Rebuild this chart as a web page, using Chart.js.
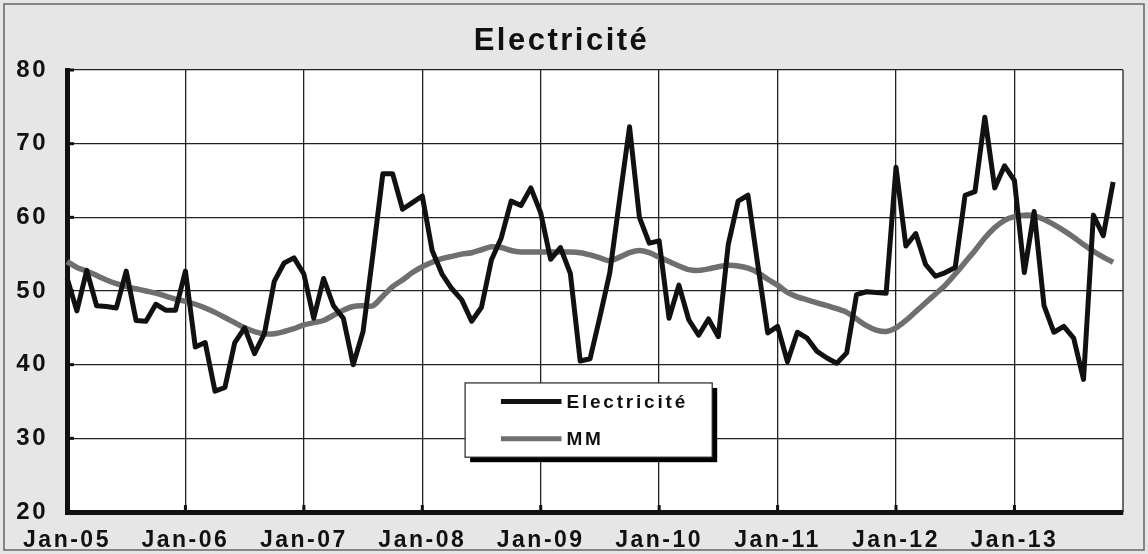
<!DOCTYPE html>
<html>
<head>
<meta charset="utf-8">
<script src="https://cdn.jsdelivr.net/npm/chart.js@4/dist/chart.umd.min.js"></script>
<style>
  html, body { margin: 0; padding: 0; background: #e6e6e6; }
  #wrap { width: 1148px; height: 554px; position: relative; }
</style>
</head>
<body>
<div id="wrap"><canvas id="elecChart" width="1148" height="554"></canvas></div>
<script>
// categories
var years = ['05','06','07','08','09','10','11','12','13'];
var months = ['Jan','Feb','Mar','Apr','May','Jun','Jul','Aug','Sep','Oct','Nov','Dec'];
var labels = [];
years.forEach(function(y){ months.forEach(function(m){ labels.push(m + '-' + y); }); });

// series (Jan-05 .. Nov-13)
var elecValues = [
  51.8, 47.3, 52.8, 48.0, 47.9, 47.7, 52.7, 46.0, 45.9, 48.2, 47.4, 47.4,
  52.7, 42.4, 43.0, 36.4, 36.9, 43.0, 45.0, 41.5, 44.2, 51.3, 53.8, 54.5,
  52.3, 46.3, 51.7, 48.0, 46.3, 40.0, 44.5, 55.0, 65.9, 65.9, 61.1, 62.0,
  62.9, 55.5, 52.3, 50.3, 48.8, 45.9, 47.8, 54.2, 57.2, 62.2, 61.6, 64.0,
  60.6, 54.3, 55.9, 52.4, 40.5, 40.8, 46.5, 52.5, 62.5, 72.3, 60.0, 56.5,
  56.8, 46.3, 50.8, 46.1, 44.0, 46.2, 43.8, 56.3, 62.2, 63.0, 53.5, 44.3,
  45.2, 40.4, 44.4, 43.6, 41.8, 40.9, 40.2, 41.6, 49.5, 49.9, 49.8, 49.7,
  66.8, 56.1, 57.8, 53.6, 52.0, 52.5, 53.2, 63.0, 63.5, 73.6, 64.0, 67.0,
  65.0, 52.5, 60.8, 48.0, 44.4, 45.2, 43.6, 38.0, 60.3, 57.5, 64.8
];
var mmValues = [
  54.0, 53.2, 52.7, 52.1, 51.5, 51.0, 50.6, 50.3, 50.0, 49.7, 49.3, 48.9,
  48.6, 48.2, 47.7, 47.1, 46.4, 45.7, 45.0, 44.5, 44.2, 44.2, 44.5, 44.9,
  45.4, 45.7, 46.0, 46.7, 47.4, 47.9, 48.0, 48.0, 49.3, 50.6, 51.5, 52.5,
  53.3, 53.9, 54.4, 54.7, 55.0, 55.2, 55.6, 56.0, 55.9, 55.5, 55.3, 55.3,
  55.3, 55.3, 55.3, 55.3, 55.2, 54.9, 54.5, 54.1, 54.6, 55.2, 55.5, 55.2,
  54.6, 54.0, 53.4, 52.9, 52.8, 53.0, 53.3, 53.5, 53.4, 53.1, 52.5, 51.6,
  50.8, 49.8, 49.2, 48.8, 48.4, 48.0, 47.6, 47.1, 46.2, 45.3, 44.7, 44.5,
  45.0, 46.0, 47.2, 48.4, 49.6, 50.8, 52.3, 53.9, 55.5, 57.2, 58.6, 59.6,
  60.1, 60.3, 60.2, 59.7, 59.0, 58.2, 57.3, 56.3, 55.4, 54.6, 53.9
];
var yTicks = [20, 30, 40, 50, 60, 70, 80];

var fontFamily = '"Liberation Sans", Arial, sans-serif';

var decorPlugin = {
  id: 'decor',
  beforeDraw: function(chart) {
    var ctx = chart.ctx, a = chart.chartArea;
    ctx.save();
    ctx.fillStyle = '#e6e6e6';
    ctx.fillRect(0, 0, chart.width, chart.height);
    ctx.strokeStyle = '#666';
    ctx.lineWidth = 1.5;
    ctx.strokeRect(4, 4, chart.width - 8, chart.height - 8);
    ctx.fillStyle = '#ffffff';
    ctx.fillRect(a.left, a.top, a.right - a.left, a.bottom - a.top);
    ctx.restore();
    ctx.letterSpacing = '2.5px';
  },
  beforeDatasetsDraw: function(chart) {
    var ctx = chart.ctx, a = chart.chartArea;
    var x = chart.scales.x, y = chart.scales.y;
    ctx.save();
    ctx.strokeStyle = '#222';
    ctx.lineWidth = 1.3;
    ctx.beginPath();
    ctx.moveTo(a.right, a.top);
    ctx.lineTo(a.right, a.bottom);
    ctx.stroke();
    // small inward tick marks
    ctx.strokeStyle = '#111';
    ctx.lineWidth = 3;
    y.ticks.forEach(function(t) {
      var py = y.getPixelForValue(t.value);
      ctx.beginPath(); ctx.moveTo(a.left, py); ctx.lineTo(a.left + 7, py); ctx.stroke();
    });
    labels.forEach(function(l, i) {
      if (l.indexOf('Jan') === 0) {
        var px = x.getPixelForValue(i);
        ctx.beginPath(); ctx.moveTo(px, a.bottom); ctx.lineTo(px, a.bottom - 7); ctx.stroke();
      }
    });
    ctx.restore();
  },
  afterDraw: function(chart) {
    var ctx = chart.ctx, a = chart.chartArea;
    var w = a.right - a.left, h = a.bottom - a.top;
    var bx = a.left + w * 0.377, by = a.top + h * 0.708;
    var bw = w * 0.234, bh = h * 0.168;
    ctx.save();
    ctx.fillStyle = '#000';
    ctx.fillRect(bx + 5, by + 5, bw, bh);
    ctx.fillStyle = '#fff';
    ctx.fillRect(bx, by, bw, bh);
    ctx.strokeStyle = '#222';
    ctx.lineWidth = 1.2;
    ctx.strokeRect(bx, by, bw, bh);
    ctx.letterSpacing = '2.8px';
    ctx.font = 'bold 19px ' + fontFamily;
    ctx.textBaseline = 'middle';
    chart.data.datasets.forEach(function(ds, i) {
      var ly = by + bh * (0.25 + 0.5 * i);
      ctx.strokeStyle = ds.borderColor;
      ctx.lineWidth = 5;
      ctx.beginPath();
      ctx.moveTo(bx + bw * 0.145, ly);
      ctx.lineTo(bx + bw * 0.39, ly);
      ctx.stroke();
      ctx.fillStyle = '#111';
      ctx.fillText(ds.label, bx + bw * 0.41, ly + 1);
    });
    ctx.restore();
    ctx.letterSpacing = '0px';
  }
};

new Chart(document.getElementById('elecChart'), {
  type: 'line',
  data: {
    labels: labels,
    datasets: [
      {
        label: 'Electricité',
        data: elecValues,
        borderColor: '#111111',
        borderWidth: 5,
        pointRadius: 0,
        tension: 0,
        borderJoinStyle: 'round'
      },
      {
        label: 'MM',
        data: mmValues,
        borderColor: '#6f6f6f',
        borderWidth: 5.5,
        pointRadius: 0,
        tension: 0.3
      }
    ]
  },
  options: {
    responsive: false,
    animation: false,
    layout: { padding: { left: 0, right: 25, top: 0, bottom: 0 } },
    plugins: {
      legend: { display: false },
      tooltip: { enabled: false },
      title: {
        display: true,
        text: 'Electricité',
        color: '#111',
        font: { family: fontFamily, size: 31, weight: 'bold' },
        padding: { top: 23, bottom: 9.8 }
      }
    },
    scales: {
      x: {
        afterFit: function(scale) { scale.height = 42; },
        border: { display: true, width: 5, color: '#111' },
        grid: { color: '#222', lineWidth: 1.3, drawTicks: false },
        ticks: {
          autoSkip: false,
          maxRotation: 0,
          minRotation: 0,
          padding: 15,
          color: '#111',
          font: { family: fontFamily, size: 23, weight: 'bold' },
          callback: function(value) {
            var lab = this.getLabelForValue(value);
            return lab.indexOf('Jan') === 0 ? lab : null;
          }
        }
      },
      y: {
        min: yTicks[0],
        max: yTicks[yTicks.length - 1],
        afterFit: function(scale) { scale.width = 67; },
        border: { display: true, width: 5, color: '#111' },
        grid: { color: '#222', lineWidth: 1.3, drawTicks: false },
        afterBuildTicks: function(scale) {
          scale.ticks = yTicks.map(function(v) { return { value: v }; });
        },
        ticks: {
          padding: 19,
          color: '#111',
          font: { family: fontFamily, size: 24, weight: 'bold' }
        }
      }
    }
  },
  plugins: [decorPlugin]
});
</script>
</body>
</html>
